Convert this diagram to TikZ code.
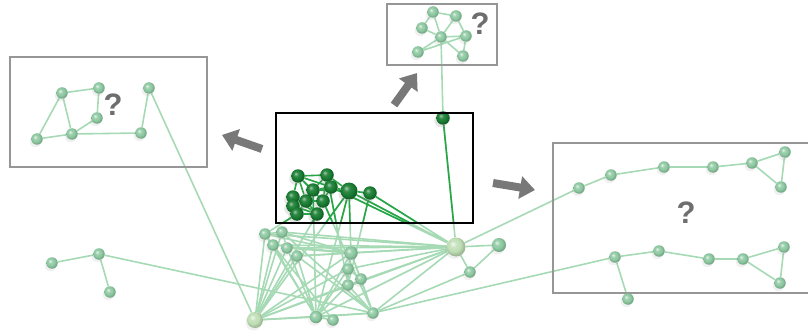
\documentclass[tikz,border=0pt]{standalone}
\usepackage{fontspec}
\setmainfont{Liberation Sans}
\usetikzlibrary{arrows.meta,shadows}
\definecolor{lightball}{RGB}{140,200,160}
\definecolor{paleball}{RGB}{190,222,180}
\definecolor{darkball}{RGB}{25,125,50}
\definecolor{ledge}{RGB}{165,218,180}
\definecolor{dedge}{RGB}{40,165,70}
\definecolor{boxgray}{RGB}{150,150,150}
\definecolor{qgray}{RGB}{110,110,110}
\definecolor{arrgray}{RGB}{120,120,120}
\pgfdeclareradialshading{lballsh}{\pgfqpoint{-9bp}{9bp}}{color(0bp)=(lightball!20!white); color(9bp)=(lightball!85!white); color(18bp)=(lightball); color(25bp)=(lightball!85!black); color(50bp)=(lightball!65!black)}
\pgfdeclareradialshading{pballsh}{\pgfqpoint{-9bp}{9bp}}{color(0bp)=(paleball!20!white); color(9bp)=(paleball!85!white); color(18bp)=(paleball); color(25bp)=(paleball!85!black); color(50bp)=(paleball!65!black)}
\pgfdeclareradialshading{dballsh}{\pgfqpoint{-9bp}{9bp}}{color(0bp)=(darkball!40!white); color(9bp)=(darkball!90!white); color(18bp)=(darkball); color(25bp)=(darkball!80!black); color(50bp)=(darkball!50!black)}
\pgfdeclarelayer{bg}
\pgfsetlayers{bg,main}
\tikzset{
  lnode/.style={circle,inner sep=0pt,minimum size=11.5pt,shading=lballsh,
    drop shadow={shadow xshift=-1.5pt,shadow yshift=-2.5pt,opacity=0.12}},
  pnode/.style={lnode,shading=pballsh},
  dnode/.style={circle,inner sep=0pt,minimum size=13.5pt,shading=dballsh,
    drop shadow={shadow xshift=-2pt,shadow yshift=-2.5pt,opacity=0.2}},
  ledgestyle/.style={draw=ledge,line width=1.6pt},
  dedgestyle/.style={draw=dedge,line width=1.6pt},
  graybox/.style={draw=boxgray,line width=1.4pt},
  qmark/.style={text=qgray,font=\bfseries\fontsize{31}{31}\selectfont,inner sep=0pt},
  bigarrow/.style={draw=arrgray,line width=8pt,-{Triangle[width=22pt,length=15pt]}},
}
\begin{document}
\begin{tikzpicture}[x=1pt,y=-1pt]
\useasboundingbox (0,0) rectangle (808,334);
% boxes
\draw[graybox] (10,57) rectangle (207,167);
\draw[graybox] (387,4) rectangle (497,65);
\draw[graybox] (553,143) rectangle (812,293);
\node[qmark] (q1) at (113,105) {?};
\node[qmark] (q2) at (480,24) {?};
\node[qmark] (q3) at (686,213) {?};
% arrows
\coordinate (a1t) at (262,149); \coordinate (a1h) at (222,135);
\coordinate (a2t) at (394,105); \coordinate (a2h) at (417,73);
\coordinate (a3t) at (493,183); \coordinate (a3h) at (535,190);
\draw[bigarrow] (a1t) -- (a1h);
\draw[bigarrow] (a2t) -- (a2h);
\draw[bigarrow] (a3t) -- (a3h);
% left box nodes
\node[lnode] (l1) at (62,93) {};
\node[lnode] (l2) at (99,88) {};
\node[lnode] (l3) at (97,118) {};
\node[lnode] (l4) at (72,134) {};
\node[lnode] (l5) at (37,139) {};
\node[lnode] (l6) at (141,133) {};
\node[lnode] (l7) at (149,88) {};
% top box
\node[lnode] (t1) at (433,12) {};
\node[lnode] (t2) at (456,16) {};
\node[lnode] (t3) at (422,28) {};
\node[lnode] (t4) at (441,37) {};
\node[lnode] (t5) at (466,36) {};
\node[lnode] (t6) at (418,52) {};
\node[lnode] (t7) at (463,56) {};
% right box
\node[lnode] (r1) at (579,188) {};
\node[lnode] (r2) at (611,175) {};
\node[lnode] (r3) at (664,167) {};
\node[lnode] (r4) at (713,167) {};
\node[lnode] (r5) at (752,163) {};
\node[lnode] (r6) at (785,152) {};
\node[lnode] (r7) at (781,187) {};
\node[lnode] (s1) at (615,257) {};
\node[lnode] (s2) at (659,251) {};
\node[lnode] (s3) at (709,259) {};
\node[lnode] (s4) at (743,259) {};
\node[lnode] (s5) at (784,247) {};
\node[lnode] (s6) at (780,283) {};
\node[lnode] (s7) at (628,299) {};
% far left
\node[lnode] (f1) at (52,263) {};
\node[lnode] (f2) at (99,254) {};
\node[lnode] (f3) at (110,292) {};
% bottom cluster
\node[lnode] (c1) at (265,234) {};
\node[lnode] (c2) at (282,232) {};
\node[lnode] (c3) at (273,245) {};
\node[lnode] (c4) at (287,248) {};
\node[lnode] (c5) at (297,256) {};
\node[lnode,minimum size=13.5pt] (c6) at (351,253) {};
\node[lnode] (c7) at (348,269) {};
\node[lnode] (c8) at (361,279) {};
\node[lnode] (c9) at (348,285) {};
\node[pnode,minimum size=16pt] (B) at (255,320) {};
\node[lnode,minimum size=12.5pt] (c10) at (316,317) {};
\node[lnode] (c11) at (333,320) {};
\node[lnode] (c12) at (373,313) {};
\node[pnode,minimum size=19pt] (H) at (456,247) {};
\node[lnode,minimum size=14pt] (h2) at (499,245) {};
\node[lnode] (h3) at (470,272) {};
% dark nodes
\node[dnode] (d1) at (443,118) {};
\node[dnode] (d2) at (298,176) {};
\node[dnode] (d3) at (327,175) {};
\node[dnode] (d4) at (313,190) {};
\node[dnode] (d5) at (331,187) {};
\node[dnode,minimum size=17pt] (d6) at (349,191) {};
\node[dnode] (d7) at (370,193) {};
\node[dnode] (d8) at (293,197) {};
\node[dnode] (d9) at (306,201) {};
\node[dnode] (d10) at (323,201) {};
\node[dnode] (d11) at (293,206) {};
\node[dnode] (d12) at (297,214) {};
\node[dnode] (d13) at (317,214) {};
\begin{pgfonlayer}{bg}
\begin{scope}[ledgestyle]
% left box
\draw (l1)--(l2) (l1)--(l5) (l1)--(l4) (l2)--(l3) (l3)--(l4) (l5)--(l4) (l4)--(l6) (l6)--(l7) (l7)--(B);
% top box
\draw (t1)--(t3) (t1)--(t4) (t1)--(t2) (t2)--(t4) (t2)--(t5) (t4)--(t5) (t3)--(t4) (t6)--(t4) (t6)--(t5) (t4)--(t7) (t5)--(t7) (t4)--(d1);
% right box
\draw (r1)--(r2)--(r3)--(r4)--(r5)--(r6)--(r7)--(r5) (r1)--(H);
\draw (s1)--(s2)--(s3)--(s4)--(s5)--(s6)--(s4) (s1)--(s7) (s1)--(c12);
% far left
\draw (f1)--(f2)--(f3) (f2)--(c12);
% bottom cluster
\foreach \n in {c1,c2,c3,c4,c5,c6,c7,c9,c10,c12,H} \draw (B)--(\n);
\foreach \n in {c1,c2,c3,c4,c5,c6,c7,c9,c10,c12,h2,h3} \draw (H)--(\n);
\draw (c1)--(c3) (c1)--(c2) (c2)--(c4) (c2)--(c6) (c1)--(c6) (c3)--(c6) (c4)--(c6) (c5)--(c6)
      (c6)--(c7) (c7)--(c9) (c7)--(c8) (c6)--(c8) (c3)--(c10) (c4)--(c10) (c5)--(c10)
      (c6)--(c10) (c7)--(c10) (c9)--(c10) (c2)--(c12) (c5)--(c12) (c6)--(c12) (c8)--(c12)
      (c10)--(c11) (c10)--(c12) (c9)--(c12) (c1)--(c10) (h3)--(c12) (h2)--(h3) (c3)--(c11);
% dark to light
\draw (d1)--(H) (d6)--(B) (d6)--(c10) (d6)--(c6) (d7)--(c9) (d13)--(B) (d12)--(c1)
      (d7)--(H) (d6)--(H) (d5)--(H) (d10)--(c12) (d4)--(c10) (d3)--(c9);
\end{scope}
\begin{scope}
\clip (276,113) rectangle (473,223);
\begin{scope}[dedgestyle]
\draw (d1)--(H) (d6)--(B) (d6)--(c10) (d6)--(c6) (d7)--(c9) (d13)--(B) (d12)--(c1)
      (d7)--(H) (d6)--(H) (d5)--(H) (d10)--(c12) (d4)--(c10) (d3)--(c9);
\draw (d2)--(d3) (d2)--(d4) (d2)--(d8) (d2)--(d9) (d2)--(d10) (d2)--(d5) (d3)--(d4)
      (d3)--(d5) (d3)--(d10) (d4)--(d5) (d4)--(d9) (d4)--(d10) (d5)--(d10) (d5)--(d6)
      (d8)--(d9) (d8)--(d11) (d9)--(d10) (d9)--(d12) (d9)--(d13) (d10)--(d13)
      (d11)--(d12) (d12)--(d13) (d11)--(d13) (d6)--(d7) (d4)--(d6) (d3)--(d6) (d8)--(d13);
\end{scope}
\end{scope}
\end{pgfonlayer}
\draw[black,line width=1.5pt] (276,113) rectangle (473,223);
\end{tikzpicture}
\end{document}
